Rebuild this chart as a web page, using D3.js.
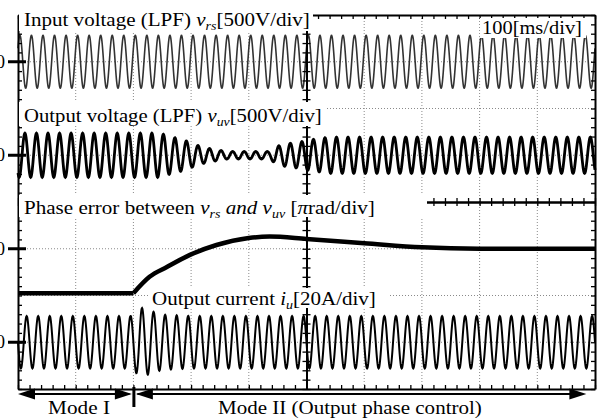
<!DOCTYPE html>
<html>
<head>
<meta charset="utf-8">
<script src="https://cdn.jsdelivr.net/npm/d3@7"></script>
<style>
body { margin: 0; background: #fff; }
text { font-family: "Liberation Serif", "Times New Roman", serif; fill: #000; }
</style>
</head>
<body>
<div id="chartdiv"></div>
<script>
/* --- values --- */

let timeDomain = [0, 1000]      // ms, 100 ms/div
let divDomain = [-4, 4]
let lineFreq = 50               // Hz
let modeChange = 200            // ms, Mode I -> Mode II

// where each channel's zero sits, in divisions
let vrsZero = 3
let vuvZero = 1
let phaseZero = -1
let iuZero = -3

let voltsPerDiv = 500
let ampsPerDiv = 20

// input voltage envelope (ms, V)
let vrsEnvT = [0, 1000]
let vrsEnvV = [283, 283]
let vrsPeakT = 3.3

// output voltage envelope (ms, V)
let vuvEnvT = [0, 246, 268, 289, 310, 329, 362, 436, 448, 467, 488, 500, 540, 1000]
let vuvEnvV = [235, 235, 193, 160, 107, 75, 40, 40, 95, 125, 139, 160, 193, 193]
let vuvPeakT = 12

// phase error (ms, pi rad)
let phaseT = [0, 200, 228, 258, 298, 344, 400, 436, 500, 600, 700, 800, 1000]
let phaseV = [-0.95, -0.95, -0.60, -0.39, -0.13, 0.08, 0.23, 0.26, 0.21, 0.12, 0.03, 0.0, 0.0]

// output current envelope (ms, A)
let iuEnvT = [0, 195, 213, 225, 250, 300, 1000]
let iuEnvA = [11.2, 11.2, 14.8, 13.8, 11.8, 11.2, 11.2]
let iuPeakT = 15

/* -------------------- */

let width = 611
let height = 420
let fLeft = 18
let fRight = 595
let fTop = 15
let fBottom = 389

function drawChart(){
   let svg = d3.select('#chartdiv')
      .append('svg')
      .attr("width", width)
      .attr("height", height)

   let x = d3.scaleLinear().domain(timeDomain).range([fLeft, fRight])
   let y = d3.scaleLinear().domain(divDomain).range([fBottom, fTop])
   let mid = x(500)

   // dotted grid
   let grid = svg.append("g")
      .attr("stroke", "#8a8a8a")
      .attr("stroke-width", 1)
      .attr("stroke-dasharray", "1,2")
   d3.range(100, 1000, 100).filter(t => t != 500).forEach(t => {
      grid.append("line")
         .attr("x1", x(t)).attr("x2", x(t))
         .attr("y1", fTop).attr("y2", fBottom)
   })
   d3.range(-3, 4, 1).filter(d => d != 0).forEach(d => {
      grid.append("line")
         .attr("x1", fLeft).attr("x2", fRight)
         .attr("y1", y(d)).attr("y2", y(d))
   })

   // traces
   let sampleT = d3.range(0, 1000.01, 0.5)
   let line = d3.line().x(d => x(d[0])).y(d => y(d[1]))

   function wave(envT, envV, peakT, perDiv, zero){
      let env = d3.scaleLinear().domain(envT).range(envV)
      return sampleT.map(t => [t,
         zero + env(t) * Math.cos(2 * Math.PI * lineFreq * (t - peakT) / 1000) / perDiv])
   }

   svg.append("path")
      .datum(wave(vrsEnvT, vrsEnvV, vrsPeakT, voltsPerDiv, vrsZero))
      .attr("d", line)
      .attr("fill", "none")
      .attr("stroke", "#333")
      .attr("stroke-width", 1.6)

   svg.append("path")
      .datum(wave(vuvEnvT, vuvEnvV, vuvPeakT, voltsPerDiv, vuvZero))
      .attr("d", line)
      .attr("fill", "none")
      .attr("stroke", "#000")
      .attr("stroke-width", 2.8)

   // phase error: flat in Mode I, smooth rise after the switch
   let phasePts = phaseT.map((t, i) => [t, phaseZero + phaseV[i]])
   let curveLine = d3.line().x(d => x(d[0])).y(d => y(d[1])).curve(d3.curveMonotoneX)
   svg.append("path")
      .datum(phasePts.filter(d => d[0] <= modeChange))
      .attr("d", line)
      .attr("fill", "none")
      .attr("stroke", "#000")
      .attr("stroke-width", 4.5)
   svg.append("path")
      .datum(phasePts.filter(d => d[0] >= modeChange))
      .attr("d", curveLine)
      .attr("fill", "none")
      .attr("stroke", "#000")
      .attr("stroke-width", 4.5)

   svg.append("path")
      .datum(wave(iuEnvT, iuEnvA, iuPeakT, ampsPerDiv, iuZero))
      .attr("d", line)
      .attr("fill", "none")
      .attr("stroke", "#000")
      .attr("stroke-width", 2)

   // frame + centre cross with minor ticks (5 per div)
   let tMinor = d3.range(0, 1000.01, 20)
   let dMinor = d3.range(-4, 4.01, 0.2)
   function tickAxis(axis, vals, tx, ty){
      let g = svg.append("g")
         .attr("transform", `translate(${tx}, ${ty})`)
         .call(axis.tickValues(vals).tickFormat("").tickSizeInner(4).tickSizeOuter(0))
      g.selectAll("line").attr("stroke", "#000").attr("stroke-width", 1.3)
      g.select(".domain").attr("stroke", "#000").attr("stroke-width", 2)
      return g
   }
   tickAxis(d3.axisBottom(x), tMinor, 0, fTop)
   tickAxis(d3.axisTop(x), tMinor, 0, fBottom)
   tickAxis(d3.axisRight(y), dMinor, fLeft, 0)
   tickAxis(d3.axisLeft(y), dMinor, fRight, 0)
   tickAxis(d3.axisTop(x), tMinor, 0, y(0))
   tickAxis(d3.axisBottom(x), tMinor, 0, y(0))
   tickAxis(d3.axisLeft(y), dMinor, mid, 0)
   tickAxis(d3.axisRight(y), dMinor, mid, 0)

   // text, stretched sideways to the width it has in the picture
   function wideText(tx, ty, target, parts){
      let t = svg.append("text").attr("font-size", 18)
      parts.forEach(p => {
         let s = t.append("tspan").text(p.t)
         if (p.i) s.attr("font-style", "italic")
         if (p.sub) s.attr("font-size", 12).attr("dy", 4)
         if (p.up) s.attr("dy", -4)
      })
      let w = t.node().getBBox().width
      t.attr("transform", `translate(${tx}, ${ty}) scale(${target / w}, 1)`)
      return t
   }

   function label(bx, by, bw, bh, tx, ty, target, parts){
      svg.append("rect")
         .attr("x", bx).attr("y", by)
         .attr("width", bw).attr("height", bh)
         .attr("fill", "#fff")
      wideText(tx, ty, target, parts)
   }
   label(19, 7, 294, 24, 24, 26, 286, [
      {t: "Input voltage (LPF) "}, {t: "v", i: 1}, {t: "rs", i: 1, sub: 1}, {t: "[500V/div]", up: 1}])
   label(480, 18, 106, 20, 482, 34, 100, [{t: "100[ms/div]"}])
   label(19, 102, 307, 24, 24, 122, 298, [
      {t: "Output voltage (LPF) "}, {t: "v", i: 1}, {t: "uv", i: 1, sub: 1}, {t: "[500V/div]", up: 1}])
   label(19, 195, 408, 22, 24, 214, 351, [
      {t: "Phase error between "}, {t: "v", i: 1}, {t: "rs", i: 1, sub: 1},
      {t: " and ", i: 1, up: 1}, {t: "v", i: 1}, {t: "uv", i: 1, sub: 1},
      {t: " [", up: 1}, {t: "π", i: 1}, {t: "rad/div]"}])
   label(150, 288, 238, 20, 152, 305, 224, [
      {t: "Output current "}, {t: "i", i: 1}, {t: "u", i: 1, sub: 1}, {t: "[20A/div]", up: 1}])

   // zero markers on the left
   ;[vrsZero, vuvZero, phaseZero, iuZero].forEach(z => {
      svg.append("line")
         .attr("x1", 8).attr("x2", 26)
         .attr("y1", y(z)).attr("y2", y(z))
         .attr("stroke", "#000").attr("stroke-width", 3)
      svg.append("text")
         .attr("x", 5).attr("y", y(z) + 6)
         .attr("text-anchor", "end")
         .attr("font-size", 18)
         .text("0")
   })

   // mode arrows under the frame
   let ay = 394
   let xm = x(modeChange)
   let xe = x(985)
   let arr = svg.append("g").attr("fill", "#000").attr("stroke", "#000")
   arr.append("line").attr("x1", fLeft + 4).attr("x2", xm - 4).attr("y1", ay).attr("y2", ay).attr("stroke-width", 2)
   arr.append("line").attr("x1", xm + 4).attr("x2", xe - 4).attr("y1", ay).attr("y2", ay).attr("stroke-width", 2)
   let head = (tip, dir) => `${tip},${ay} ${tip + dir * 17},${ay - 5.5} ${tip + dir * 17},${ay + 5.5}`
   arr.append("polygon").attr("points", head(fLeft, 1)).attr("stroke", "none")
   arr.append("polygon").attr("points", head(xm - 1.5, -1)).attr("stroke", "none")
   arr.append("polygon").attr("points", head(xm + 2.5, 1)).attr("stroke", "none")
   arr.append("polygon").attr("points", head(xe, -1)).attr("stroke", "none")
   arr.append("line").attr("x1", xm + 0.5).attr("x2", xm + 0.5).attr("y1", fBottom - 2).attr("y2", 407).attr("stroke-width", 3)

   wideText(48, 414, 62, [{t: "Mode I"}])
   wideText(218, 414, 264, [{t: "Mode II (Output phase control)"}])
}
drawChart()
</script>
</body>
</html>
